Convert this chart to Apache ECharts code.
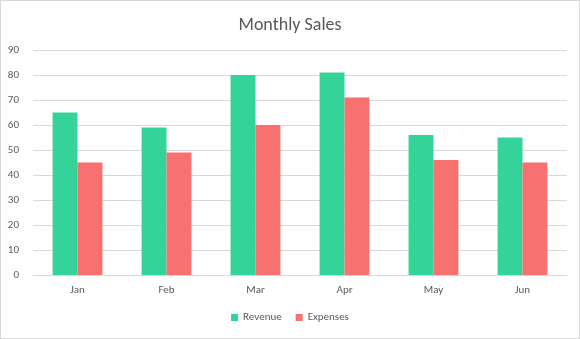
<!DOCTYPE html>
<html><head><meta charset="utf-8">
<script src="https://cdn.jsdelivr.net/npm/echarts@6/dist/echarts.min.js"></script>
<style>
html,body{margin:0;padding:0;background:#fff;}
#c{width:578px;height:337px;border:1px solid #d9d9d9;}
</style></head>
<body><div id="c"></div>
<script>
const categories = ['Jan','Feb','Mar','Apr','May','Jun'];
const revenue = [65, 59, 80, 81, 56, 55];
const expenses = [45, 49, 60, 71, 46, 45];
const yTicks = {min: 0, max: 90, interval: 10};

const chart = echarts.init(document.getElementById('c'), null, {renderer: 'canvas'});
const font = 'Calibri, Carlito, "Liberation Sans", "Open Sans", sans-serif';
chart.setOption({
  animation: false,
  title: {text: 'Monthly Sales', left: 'center', top: 10,
    textStyle: {fontFamily: font, fontSize: 18, fontWeight: 'normal', color: '#595959'}},
  legend: {bottom: 10, itemWidth: 7, itemHeight: 7, itemGap: 14, icon: 'rect',
    textStyle: {fontFamily: font, fontSize: 11, color: '#595959'},
    data: ['Revenue','Expenses']},
  grid: {left: 32, right: 12, top: 49, bottom: 63},
  xAxis: {type: 'category', data: categories,
    axisLine: {lineStyle: {color: '#d9d9d9'}}, axisTick: {show: false},
    axisLabel: {fontFamily: font, fontSize: 11, color: '#595959', margin: 10}},
  yAxis: {type: 'value', min: yTicks.min, max: yTicks.max, interval: yTicks.interval,
    axisLine: {show: false}, axisTick: {show: false},
    splitLine: {lineStyle: {color: '#d9d9d9'}},
    axisLabel: {fontFamily: font, fontSize: 11, color: '#595959', margin: 14}},
  series: [
    {name: 'Revenue', type: 'bar', data: revenue, itemStyle: {color: '#34D399'}, barGap: '0%', barCategoryGap: '44%'},
    {name: 'Expenses', type: 'bar', data: expenses, itemStyle: {color: '#F87171'}}
  ]
});
</script></body></html>
